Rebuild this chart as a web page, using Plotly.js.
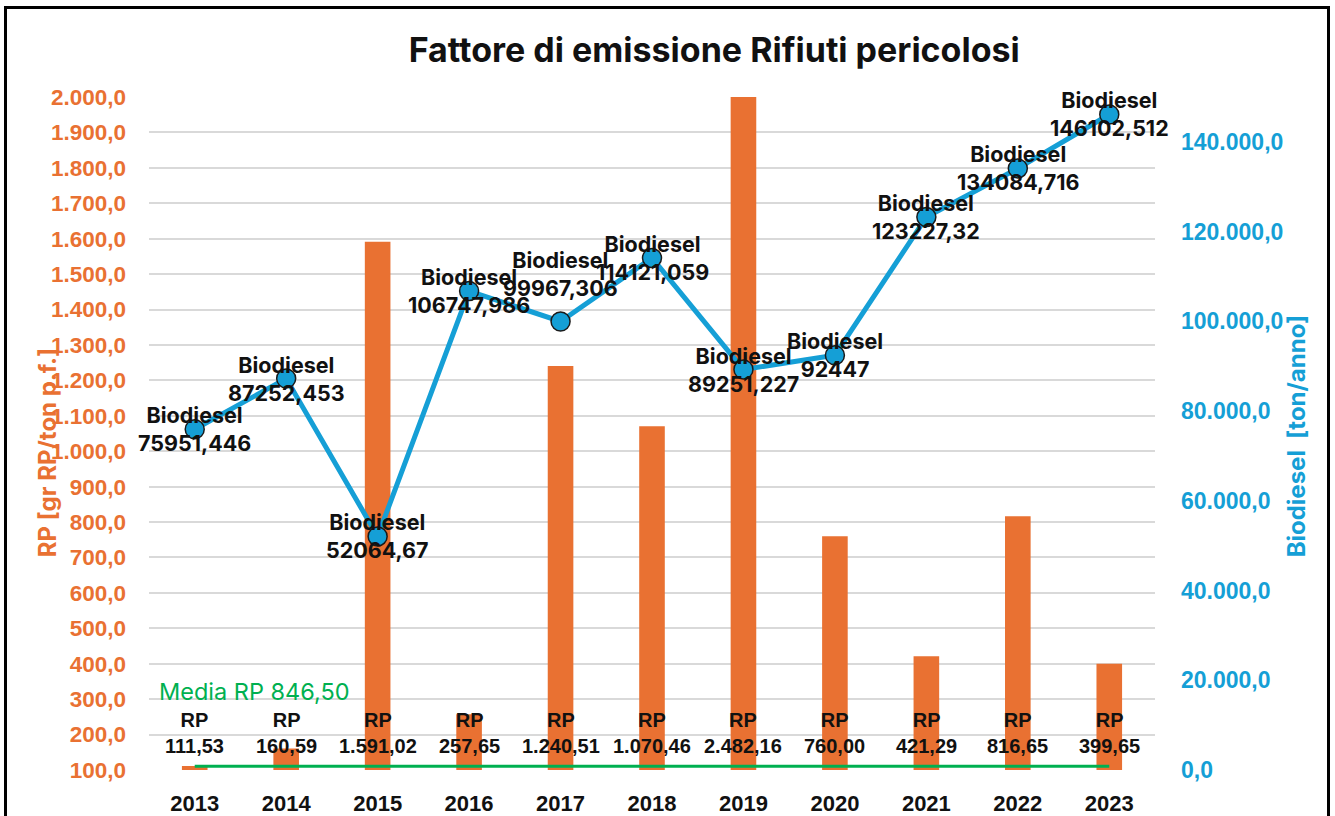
<!DOCTYPE html>
<html>
<head>
<meta charset="utf-8">
<script src="https://cdn.plot.ly/plotly-3.0.1.min.js"></script>
<style>
  html, body { margin: 0; padding: 0; background: #ffffff; overflow: hidden; }
  #chart { width: 1335px; height: 816px; }
  #frame { position: absolute; left: 4px; top: 6px; width: 1320px; height: 900px;
           border: 3px solid #000; pointer-events: none; }
</style>
</head>
<body>
<div id="chart"></div>
<div id="frame"></div>
<script>
// ---- data ----
const years = ["2013","2014","2015","2016","2017","2018","2019","2020","2021","2022","2023"];
const rpValues = [111.53, 160.59, 1591.02, 257.65, 1240.51, 1070.46, 2482.16, 760.00, 421.29, 816.65, 399.65];
const biodieselValues = [75951.446, 87252.453, 52064.67, 106747.986, 99967.306, 114121.059, 89251.227, 92447, 123227.32, 134084.716, 146102.512];
const mediaRP = 846.50;
const rpName = "RP";
const bioName = "Biodiesel";

// ---- formatting helpers ----
function fmtIt2(v) {
  const parts = v.toFixed(2).split(".");
  parts[0] = parts[0].replace(/\B(?=(\d{3})+(?!\d))/g, ".");
  return parts[0] + "," + parts[1];
}
function fmtRaw(v) { return String(v).replace(".", ","); }

const ORANGE = "#E97132";
const BLUE = "#159FD6";
const GREEN = "#00B050";

const traces = [
  {
    type: "bar", x: years, y: rpValues, name: rpName,
    marker: { color: ORANGE }, width: 0.28, yaxis: "y", hoverinfo: "x+y"
  },
  {
    type: "scatter", mode: "lines", name: "Media RP",
    x: [years[0], years[years.length - 1]], y: [mediaRP, mediaRP],
    yaxis: "y2", line: { color: GREEN, width: 3 }, hoverinfo: "y"
  },
  {
    type: "scatter", mode: "lines+markers", name: bioName,
    x: years, y: biodieselValues, yaxis: "y2",
    line: { color: BLUE, width: 5 },
    marker: { color: BLUE, size: 19, line: { color: "#1a1a1a", width: 1.5 } }
  }
];

const annotations = [];
// bar labels near the base
years.forEach((yr, i) => {
  annotations.push({
    x: i, xref: "x", y: 0.055, yref: "paper", yanchor: "middle",
    text: rpName + "<br>" + fmtIt2(rpValues[i]), showarrow: false,
    font: { family: "Liberation Sans, Arial, sans-serif", size: 20, color: "#111", weight: "bold" }
  });
});
// biodiesel labels
const bioShift = { "2017": 47 };
years.forEach((yr, i) => {
  annotations.push({
    x: i, xref: "x", y: biodieselValues[i], yref: "y2", yanchor: "middle",
    yshift: bioShift[yr] || 0,
    text: bioName + "<br>" + fmtRaw(biodieselValues[i]), showarrow: false,
    font: { family: "Inter, sans-serif", size: 21.5, color: "#111", weight: "bold" }
  });
});
// media label
annotations.push({
  x: 0.008, xref: "paper", xanchor: "left", y: 0.116, yref: "paper", yanchor: "middle",
  text: "Media RP " + fmtIt2(mediaRP), showarrow: false,
  font: { family: "Inter, sans-serif", size: 23.5, color: GREEN }
});
// axis titles
annotations.push({
  x: -0.1014, xref: "paper", xanchor: "center", y: 0.472, yref: "paper", yanchor: "middle",
  textangle: -90, text: "RP [gr RP/ton p.f.]", showarrow: false,
  font: { family: "Inter, sans-serif", size: 24, color: ORANGE, weight: "bold" }
});
annotations.push({
  x: 1.141, xref: "paper", xanchor: "center", y: 0.497, yref: "paper", yanchor: "middle",
  textangle: -90, text: "Biodiesel  [ton/anno]", showarrow: false,
  font: { family: "Inter, sans-serif", size: 24, color: BLUE, weight: "bold" }
});

const layout = {
  width: 1335, height: 816,
  paper_bgcolor: "#ffffff", plot_bgcolor: "#ffffff",
  separators: ",.",
  showlegend: false,
  margin: { l: 149, r: 180, t: 97, b: 46, autoexpand: false },
  title: {
    text: "Fattore di emissione Rifiuti pericolosi",
    xref: "container", x: 0.535, xanchor: "center",
    yref: "container", y: 0.938, yanchor: "middle",
    font: { family: "Inter, sans-serif", size: 34, color: "#111", weight: "bold" }
  },
  xaxis: {
    type: "category", range: [-0.5, years.length - 0.5], autorange: false,
    showgrid: false, zeroline: false, showline: false, ticks: "",
    ticklabelstandoff: 18,
    tickfont: { family: "Liberation Sans, Arial, sans-serif", size: 22, color: "#111", weight: "bold" }
  },
  yaxis: {
    range: [100, 2000], dtick: 100, tick0: 0, tickformat: ",.1f",
    showgrid: true, gridcolor: "#D9D9D9", gridwidth: 2, zeroline: false, showline: false,
    ticks: "", ticklabelstandoff: 22,
    tickfont: { family: "Liberation Sans, Arial, sans-serif", size: 22.5, color: ORANGE, weight: "bold" }
  },
  yaxis2: {
    overlaying: "y", side: "right", range: [0, 150000], dtick: 20000, tick0: 0, tickformat: ",.1f",
    showgrid: false, zeroline: false, showline: false, ticks: "", ticklabelstandoff: 25,
    tickfont: { family: "Liberation Sans, Arial, sans-serif", size: 23, color: BLUE, weight: "bold" }
  },
  annotations: annotations
};

Plotly.newPlot("chart", traces, layout, { displayModeBar: false, staticPlot: true });
</script>
</body>
</html>
